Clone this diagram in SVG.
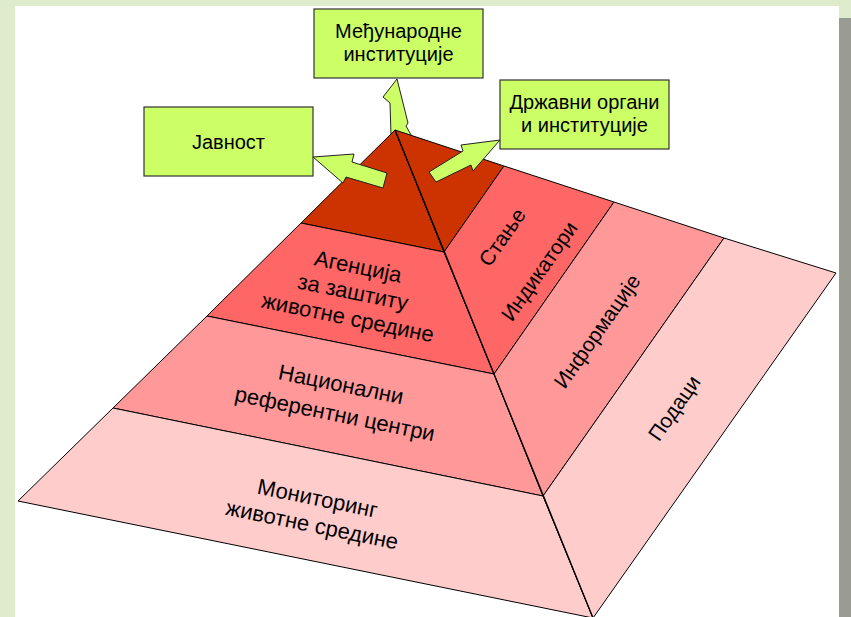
<svg xmlns="http://www.w3.org/2000/svg" width="851" height="617" viewBox="0 0 851 617">
<style>
text{font-family:"Liberation Sans",Arial,sans-serif;fill:#000;text-anchor:middle;dominant-baseline:central}
.box{fill:#ccff66;stroke:#333;stroke-width:1.2}
.arr{fill:#ccff66;stroke:#222;stroke-width:1}
.face{stroke:#000;stroke-width:1;stroke-linejoin:round}
.top{fill:#cc3300}.l1{fill:#ff6666}.l2{fill:#ff9999}.l3{fill:#ffcccc}
.bt{font-size:20px}.ft{font-size:22px}.rt{font-size:21px}
</style>
<rect x="0" y="0" width="851" height="617" fill="#dfeccb"/>
<rect x="15" y="6" width="824" height="611" fill="#ffffff"/>
<rect x="839" y="18" width="12" height="599" fill="#9a9c94"/>

<g id="connectors">
<polygon id="arrow-medjunarodne" class="arr" points="397,79 383,97 390,103 391,135 414,140 406,126 408,123"/>
</g>

<g id="pyramid">
<g id="layer-top"><polygon class="face top" points="395,130 301,223 444,252"/><polygon class="face top" points="395,130 504,166 444,252"/></g>
<g id="layer-agencija"><polygon class="face l1" points="301,223 207,316 494,374 444,252"/>
<g transform="translate(353,292) rotate(11.5)"><text class="ft" x="0" y="-26">Агенција</text><text class="ft" x="0" y="0">за заштиту</text><text class="ft" x="0" y="26">животне средине</text></g></g>
<g id="layer-nacionalni"><polygon class="face l2" points="207,316 113,408 543,496 494,374"/>
<g transform="translate(338,399) rotate(11.5)"><text class="ft" x="0" y="-15">Национални</text><text class="ft" x="0" y="15">референтни центри</text></g></g>
<g id="layer-monitoring"><polygon class="face l3" points="113,408 18,501 593,618 543,496"/>
<g transform="translate(315,511) rotate(11.5)"><text class="ft" x="0" y="-13">Мониторинг</text><text class="ft" x="0" y="14">животне средине</text></g></g>
<g id="layer-stanje"><polygon class="face l1" points="504,166 614,202 494,374 444,252"/>
<text class="rt" transform="translate(502,237) rotate(-55)">Стање</text>
<text class="rt" transform="translate(539,271) rotate(-55)">Индикатори</text></g>
<g id="layer-informacije"><polygon class="face l2" points="614,202 724,238 543,496 494,374"/>
<text class="rt" transform="translate(597,331) rotate(-55)">Информације</text></g>
<g id="layer-podaci"><polygon class="face l3" points="724,238 836,273 593,618 543,496"/>
<text class="rt" transform="translate(674,408) rotate(-55)">Подаци</text></g>
<line x1="395" y1="130" x2="593" y2="618" stroke="#000" stroke-width="1.3"/>
</g>

<g id="connectors-front">
<polygon id="arrow-drzavni" class="arr" points="429,172 463,151 461,145 500,140 473,171 471,165 436,182"/>
<polygon id="arrow-javnost" class="arr" points="313,157 354,154 352,162 387,173 383,188 346,177 343,183"/>
</g>

<g id="node-medjunarodne"><rect class="box" x="314" y="9" width="169" height="69"/>
<text class="bt" x="398.5" y="31">Међународне</text><text class="bt" x="398.5" y="54">институције</text></g>
<g id="node-drzavni"><rect class="box" x="500" y="80" width="169" height="69"/>
<text class="bt" x="584.5" y="102">Државни органи</text><text class="bt" x="584.5" y="125">и институције</text></g>
<g id="node-javnost"><rect class="box" x="144" y="107" width="169" height="69"/>
<text class="bt" x="228.5" y="142">Јавност</text></g>
</svg>
